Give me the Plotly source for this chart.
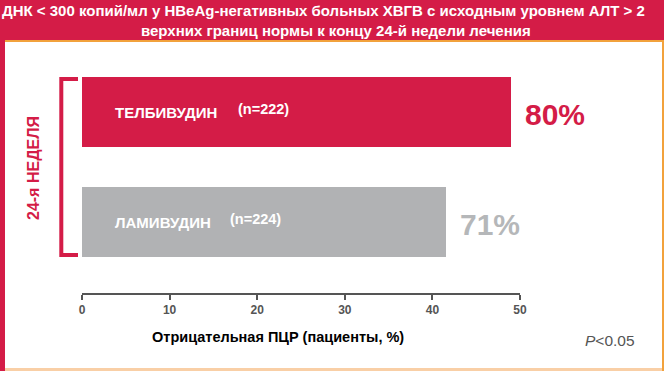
import plotly.graph_objects as go

# ---- data ----
drugs = ["ТЕЛБИВУДИН", "ЛАМИВУДИН"]
n_labels = ["(n=222)", "(n=224)"]
bar_values = [49.0, 41.5]
pct_labels = ["80%", "71%"]
y_pos = [1, 0]
x_ticks = [0, 10, 20, 30, 40, 50]

RED = "#D41C47"
GRAY = "#B1B2B4"
PCT_GRAY = "#B5B7B9"
ORANGE = "#F2A23C"
PEACH = "#F9CFA6"
AX = "#555555"

W, H = 664, 371
L, R, T, B = 82, 144, 60, 78
PW, PH = W - L - R, H - T - B


def px(x):
    return (x - L) / PW


def py(y):
    return (H - B - y) / PH


fig = go.Figure()
fig.add_trace(go.Bar(
    x=bar_values, y=y_pos, orientation="h", width=0.64,
    marker=dict(color=[RED, GRAY], line=dict(width=0)),
    hoverinfo="skip", showlegend=False,
))

ann = []
# bar labels
for name, n, v, yy, pct, pc in zip(drugs, n_labels, bar_values, y_pos, pct_labels, [RED, PCT_GRAY]):
    ann.append(dict(x=3.5, y=yy, xref="x", yref="y", text=name, showarrow=False,
                    xanchor="left", yanchor="middle",
                    font=dict(family="Liberation Sans, Arial", size=15, color="white", weight="bold")))
    ann.append(dict(x=17.6 if yy == 1 else 16.7, y=yy + 0.03, xref="x", yref="y", text=n, showarrow=False,
                    xanchor="left", yanchor="middle",
                    font=dict(family="Liberation Sans, Arial", size=14.5, color="white", weight="bold")))
    ann.append(dict(x=v, y=yy - 0.02, xref="x", yref="y", text=pct, showarrow=False,
                    xanchor="left", yanchor="middle", xshift=12,
                    font=dict(family="Liberation Sans, Arial", size=30, color=pc, weight="bold")))

# title
ann.append(dict(x=px(323), y=py(11), xref="paper", yref="paper", showarrow=False,
                text="ДНК < 300 копий/мл у HBeAg-негативных больных ХВГВ с исходным уровнем АЛТ > 2",
                xanchor="center", yanchor="middle",
                font=dict(family="Liberation Sans Narrow, Arial Narrow, Liberation Sans", size=15,
                          color="white", weight="bold")))
ann.append(dict(x=px(336), y=py(30), xref="paper", yref="paper", showarrow=False,
                text="верхних границ нормы к концу 24-й недели лечения",
                xanchor="center", yanchor="middle",
                font=dict(family="Liberation Sans Narrow, Arial Narrow, Liberation Sans", size=15,
                          color="white", weight="bold")))
# rotated week label
ann.append(dict(x=px(33), y=py(168), xref="paper", yref="paper", showarrow=False,
                text="24-я НЕДЕЛЯ", textangle=-90, xanchor="center", yanchor="middle",
                font=dict(family="Liberation Sans, Arial", size=16, color=RED, weight="bold")))
# axis title
ann.append(dict(x=px(278), y=py(337), xref="paper", yref="paper", showarrow=False,
                text="Отрицательная ПЦР (пациенты, %)", xanchor="center", yanchor="middle",
                font=dict(family="Liberation Sans, Arial", size=14.5, color="black", weight="bold")))
# p value
ann.append(dict(x=px(583), y=py(340), xref="paper", yref="paper", showarrow=False,
                text="<i>P</i><0.05", xanchor="left", yanchor="middle",
                font=dict(family="Liberation Sans, Arial", size=15.5, color=AX)))

shapes = []
# title band
shapes.append(dict(type="rect", xref="paper", yref="paper", x0=px(0), x1=px(W), y0=py(40), y1=py(0),
                   fillcolor=RED, line=dict(width=0), layer="below"))
# left red stripe
shapes.append(dict(type="rect", xref="paper", yref="paper", x0=px(0), x1=px(5), y0=py(H), y1=py(0),
                   fillcolor=RED, line=dict(width=0), layer="below"))
# orange line under title
shapes.append(dict(type="rect", xref="paper", yref="paper", x0=px(5), x1=px(W), y0=py(42), y1=py(40),
                   fillcolor=ORANGE, line=dict(width=0), layer="below"))
# right orange border
shapes.append(dict(type="rect", xref="paper", yref="paper", x0=px(662), x1=px(W), y0=py(H), y1=py(40),
                   fillcolor=ORANGE, line=dict(width=0), layer="below"))
# bottom peach band
shapes.append(dict(type="rect", xref="paper", yref="paper", x0=px(5), x1=px(662), y0=py(H), y1=py(368),
                   fillcolor=PEACH, line=dict(width=0), layer="below"))
# bracket
x_in, x_out = px(78), px(61.3)
shapes.append(dict(type="path", xref="paper", yref="y",
                   path=f"M {x_in},{1.3} L {x_out},{1.3} L {x_out},{-0.3} L {x_in},{-0.3}",
                   line=dict(color=RED, width=4)))

fig.update_layout(
    width=W, height=H,
    margin=dict(l=L, r=R, t=T, b=B, pad=0),
    paper_bgcolor="white", plot_bgcolor="white",
    annotations=ann, shapes=shapes,
    xaxis=dict(range=[0, 50], tickvals=x_ticks, ticks="outside", ticklen=5, tickwidth=1.5,
               tickcolor=AX, showline=True, linecolor=AX, linewidth=1.5, showgrid=False,
               zeroline=False, fixedrange=True,
               tickfont=dict(family="Liberation Sans, Arial", size=12, color=AX, weight="bold")),
    yaxis=dict(range=[-0.645, 1.473], showticklabels=False, showgrid=False, zeroline=False,
               showline=False, ticks="", fixedrange=True),
    bargap=0,
)

fig.write_html("out.html", config={"displayModeBar": False},
               post_script="document.body.style.margin='0';document.body.style.overflow='hidden';")
